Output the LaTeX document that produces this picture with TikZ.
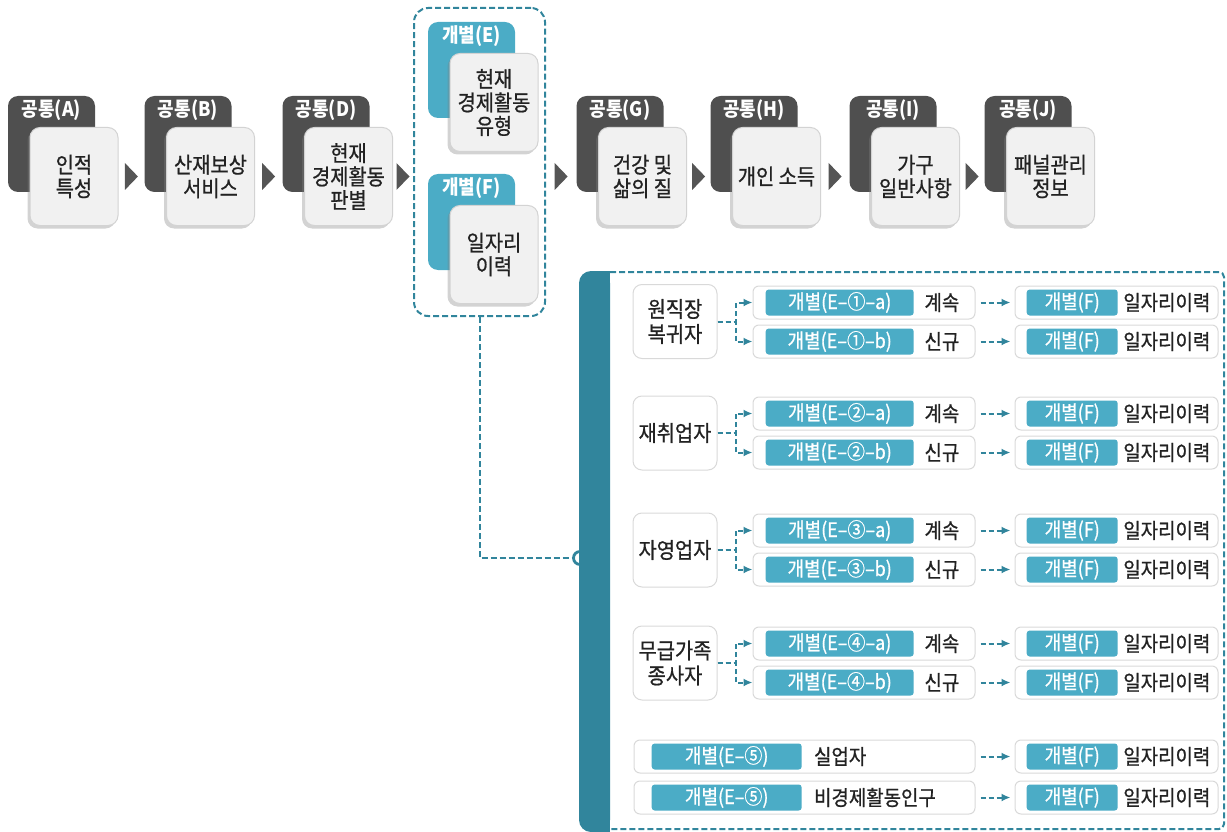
\documentclass[tikz,border=0pt]{standalone}
\usepackage{fontspec}
\setmainfont[FakeStretch=0.9]{Noto Sans CJK KR}
\newfontfamily\krmid[FakeStretch=0.9,FakeBold=0.8]{Noto Sans CJK KR}
\usetikzlibrary{positioning,shadows,calc,arrows.meta}
\definecolor{tabgray}{HTML}{4F4F4F}
\definecolor{trigray}{HTML}{555555}
\definecolor{cardfill}{HTML}{F1F1F1}
\definecolor{cardline}{HTML}{D3D3D3}
\definecolor{aqua}{HTML}{4BACC6}
\definecolor{darkaqua}{HTML}{31859C}
\definecolor{boxline}{HTML}{D9D9D9}
\definecolor{ink}{HTML}{222222}
\begin{document}
\begin{tikzpicture}[x=1pt,y=-1pt,
  tab/.style={fill=tabgray,rounded corners=10pt,minimum width=87pt,minimum height=96pt},
  tealtab/.style={tab,fill=aqua},
  tablabel/.style={text=white,font=\fontsize{20}{22}\selectfont\bfseries,inner sep=1pt},
  card/.style={draw=cardline,line width=1pt,fill=cardfill,rounded corners=10pt,minimum width=88pt,minimum height=98pt,
    align=center,text=ink,font=\krmid\fontsize{22}{23.5}\selectfont,drop shadow={shadow xshift=-2.5pt,shadow yshift=-3pt,opacity=.35}},
  tri/.style={fill=trigray},
  groupbox/.style={draw=darkaqua,line width=2pt,dash pattern=on 6pt off 3pt,rounded corners=14pt,minimum width=131pt,minimum height=308pt},
  dashline/.style={darkaqua,line width=2pt,dash pattern=on 6pt off 3pt},
  ring/.style={circle,draw=darkaqua,line width=2.8pt,fill=white,minimum size=13pt,inner sep=0pt},
  whobox/.style={draw=boxline,line width=1pt,fill=white,rounded corners=9pt,minimum width=84pt,minimum height=74pt,
    align=center,text=ink,font=\krmid\fontsize{22}{25}\selectfont},
  rowbox/.style={draw=boxline,line width=1pt,fill=white,rounded corners=6pt,minimum height=33pt,minimum width=222pt},
  jobbox/.style={rowbox,minimum width=203pt},
  pill/.style={fill=aqua,rounded corners=3pt,text=white,minimum height=26pt,minimum width=148pt,inner sep=0pt,font=\krmid\fontsize{20}{22}\selectfont},
  word/.style={text=ink,inner sep=0pt,font=\krmid\fontsize{21}{23}\selectfont},
  dasharrow/.style={-{Latex[length=9pt,width=8pt]},darkaqua,line width=2pt,dash pattern=on 5pt off 3pt}]
\useasboundingbox (0,0) rectangle (1227,832);

% common / individual modules
\node[tab] (tA) at (51.5,144) {};
\node[tablabel,below=3pt of tA.north] {공통(A)};
\node[card] (cA) at ([shift={(22.5,32.5)}]tA) {인적\\특성};
\node[tab] (tB) at (188,144) {};
\node[tablabel,below=3pt of tB.north] {공통(B)};
\node[card] (cB) at ([shift={(22.5,32.5)}]tB) {산재보상\\서비스};
\node[tab] (tD) at (326,144) {};
\node[tablabel,below=3pt of tD.north] {공통(D)};
\node[card] (cD) at ([shift={(22.5,32.5)}]tD) {현재\\경제활동\\판별};

\node[groupbox] (grp) at (479.5,162) {};
\node[tealtab] (tE) at (471.5,70) {};
\node[tablabel,below=3pt of tE.north] {개별(E)};
\node[card] (cE) at ([shift={(22.5,32.5)}]tE) {현재\\경제활동\\유형};
\node[tealtab] (tF) at (471.5,222) {};
\node[tablabel,below=3pt of tF.north] {개별(F)};
\node[card] (cF) at ([shift={(22.5,32.5)}]tF) {일자리\\이력};

\node[tab] (tG) at (620,144) {};
\node[tablabel,below=3pt of tG.north] {공통(G)};
\node[card] (cG) at ([shift={(22.5,32.5)}]tG) {건강 및\\삶의 질};
\node[tab] (tH) at (754,144) {};
\node[tablabel,below=3pt of tH.north] {공통(H)};
\node[card] (cH) at ([shift={(22.5,32.5)}]tH) {개인 소득};
\node[tab] (tI) at (893,144) {};
\node[tablabel,below=3pt of tI.north] {공통(I)};
\node[card] (cI) at ([shift={(22.5,32.5)}]tI) {가구\\일반사항};
\node[tab] (tJ) at (1028,144) {};
\node[tablabel,below=3pt of tJ.north] {공통(J)};
\node[card] (cJ) at ([shift={(22.5,32.5)}]tJ) {패널관리\\정보};

% arrows between modules
\fill[tri] ($(cA.east)!.5!(cA.east -| tB.west)$) +(-6.5,-13.5) -- +(6.5,0) -- +(-6.5,13.5) -- cycle;
\fill[tri] ($(cB.east)!.5!(cB.east -| tD.west)$) +(-6.5,-13.5) -- +(6.5,0) -- +(-6.5,13.5) -- cycle;
\fill[tri] ($(cD.east)!.5!(cD.east -| grp.west)$) +(-6.5,-13.5) -- +(6.5,0) -- +(-6.5,13.5) -- cycle;
\fill[tri] ($(cG.west -| grp.east)!.5!(cG.west -| tG.west)$) +(-6.5,-13.5) -- +(6.5,0) -- +(-6.5,13.5) -- cycle;
\fill[tri] ($(cG.east)!.5!(cG.east -| tH.west)$) +(-6.5,-13.5) -- +(6.5,0) -- +(-6.5,13.5) -- cycle;
\fill[tri] ($(cH.east)!.5!(cH.east -| tI.west)$) +(-6.5,-13.5) -- +(6.5,0) -- +(-6.5,13.5) -- cycle;
\fill[tri] ($(cI.east)!.5!(cI.east -| tJ.west)$) +(-6.5,-13.5) -- +(6.5,0) -- +(-6.5,13.5) -- cycle;

% detail panel
\node[ring] (dot) at (580,558) {};
\draw[dashline] (grp.south) |- (dot.west);
\fill[darkaqua,rounded corners=12pt] (579,271) rectangle (610,832);
\fill[darkaqua] (596,271) rectangle (610,832);
\draw[dashline,rounded corners=5pt] (610,272) -- (1224,272) -- (1224,829) -- (610,829);

% 원직장 복귀자
\node[whobox] (who1) at (675,321.5) {원직장\\복귀자};
\node[rowbox] (r1a) at (864,302.5) {};
\node[pill,right=13pt of r1a.west] {개별(E–①–a)};
\node[word,left=16pt of r1a.east] {계속};
\node[rowbox] (r1b) at (864,341.5) {};
\node[pill,right=13pt of r1b.west] {개별(E–①–b)};
\node[word,left=16pt of r1b.east] {신규};
\draw[dasharrow] (who1.east) -- ++(18,0) |- (r1a.west);
\draw[dasharrow] (who1.east) -- ++(18,0) |- (r1b.west);

% 재취업자
\node[whobox] (who2) at (675,433) {재취업자};
\node[rowbox] (r2a) at (864,413.5) {};
\node[pill,right=13pt of r2a.west] {개별(E–②–a)};
\node[word,left=16pt of r2a.east] {계속};
\node[rowbox] (r2b) at (864,452.5) {};
\node[pill,right=13pt of r2b.west] {개별(E–②–b)};
\node[word,left=16pt of r2b.east] {신규};
\draw[dasharrow] (who2.east) -- ++(18,0) |- (r2a.west);
\draw[dasharrow] (who2.east) -- ++(18,0) |- (r2b.west);

% 자영업자
\node[whobox] (who3) at (675,550) {자영업자};
\node[rowbox] (r3a) at (864,530.5) {};
\node[pill,right=13pt of r3a.west] {개별(E–③–a)};
\node[word,left=16pt of r3a.east] {계속};
\node[rowbox] (r3b) at (864,569.5) {};
\node[pill,right=13pt of r3b.west] {개별(E–③–b)};
\node[word,left=16pt of r3b.east] {신규};
\draw[dasharrow] (who3.east) -- ++(18,0) |- (r3a.west);
\draw[dasharrow] (who3.east) -- ++(18,0) |- (r3b.west);

% 무급가족 종사자
\node[whobox] (who4) at (675,663) {무급가족\\종사자};
\node[rowbox] (r4a) at (864,643.5) {};
\node[pill,right=13pt of r4a.west] {개별(E–④–a)};
\node[word,left=16pt of r4a.east] {계속};
\node[rowbox] (r4b) at (864,682.5) {};
\node[pill,right=13pt of r4b.west] {개별(E–④–b)};
\node[word,left=16pt of r4b.east] {신규};
\draw[dasharrow] (who4.east) -- ++(18,0) |- (r4a.west);
\draw[dasharrow] (who4.east) -- ++(18,0) |- (r4b.west);

% 실업자 / 비경제활동인구
\node[rowbox,minimum width=341pt] (r5a) at (804.5,756.5) {};
\node[pill,minimum width=150pt,right=18pt of r5a.west] (p5a) {개별(E–⑤)};
\node[word,right=12pt of p5a.east] {실업자};
\node[rowbox,minimum width=341pt] (r5b) at (804.5,797.5) {};
\node[pill,minimum width=150pt,right=18pt of r5b.west] (p5b) {개별(E–⑤)};
\node[word,right=12pt of p5b.east] {비경제활동인구};

% 일자리이력
\node[jobbox] (j1a) at (1116.5,302.5) {};
\node[pill,minimum width=91pt,right=12pt of j1a.west] {개별(F)};
\node[word,left=8pt of j1a.east] {일자리이력};
\node[jobbox] (j1b) at (1116.5,341.5) {};
\node[pill,minimum width=91pt,right=12pt of j1b.west] {개별(F)};
\node[word,left=8pt of j1b.east] {일자리이력};
\node[jobbox] (j2a) at (1116.5,413.5) {};
\node[pill,minimum width=91pt,right=12pt of j2a.west] {개별(F)};
\node[word,left=8pt of j2a.east] {일자리이력};
\node[jobbox] (j2b) at (1116.5,452.5) {};
\node[pill,minimum width=91pt,right=12pt of j2b.west] {개별(F)};
\node[word,left=8pt of j2b.east] {일자리이력};
\node[jobbox] (j3a) at (1116.5,530.5) {};
\node[pill,minimum width=91pt,right=12pt of j3a.west] {개별(F)};
\node[word,left=8pt of j3a.east] {일자리이력};
\node[jobbox] (j3b) at (1116.5,569.5) {};
\node[pill,minimum width=91pt,right=12pt of j3b.west] {개별(F)};
\node[word,left=8pt of j3b.east] {일자리이력};
\node[jobbox] (j4a) at (1116.5,643.5) {};
\node[pill,minimum width=91pt,right=12pt of j4a.west] {개별(F)};
\node[word,left=8pt of j4a.east] {일자리이력};
\node[jobbox] (j4b) at (1116.5,682.5) {};
\node[pill,minimum width=91pt,right=12pt of j4b.west] {개별(F)};
\node[word,left=8pt of j4b.east] {일자리이력};
\node[jobbox] (j5a) at (1116.5,756.5) {};
\node[pill,minimum width=91pt,right=12pt of j5a.west] {개별(F)};
\node[word,left=8pt of j5a.east] {일자리이력};
\node[jobbox] (j5b) at (1116.5,797.5) {};
\node[pill,minimum width=91pt,right=12pt of j5b.west] {개별(F)};
\node[word,left=8pt of j5b.east] {일자리이력};

\draw[dasharrow,shorten <=5pt,shorten >=4pt] (r1a) -- (j1a);
\draw[dasharrow,shorten <=5pt,shorten >=4pt] (r1b) -- (j1b);
\draw[dasharrow,shorten <=5pt,shorten >=4pt] (r2a) -- (j2a);
\draw[dasharrow,shorten <=5pt,shorten >=4pt] (r2b) -- (j2b);
\draw[dasharrow,shorten <=5pt,shorten >=4pt] (r3a) -- (j3a);
\draw[dasharrow,shorten <=5pt,shorten >=4pt] (r3b) -- (j3b);
\draw[dasharrow,shorten <=5pt,shorten >=4pt] (r4a) -- (j4a);
\draw[dasharrow,shorten <=5pt,shorten >=4pt] (r4b) -- (j4b);
\draw[dasharrow,shorten <=5pt,shorten >=4pt] (r5a) -- (j5a);
\draw[dasharrow,shorten <=5pt,shorten >=4pt] (r5b) -- (j5b);
\end{tikzpicture}
\end{document}
